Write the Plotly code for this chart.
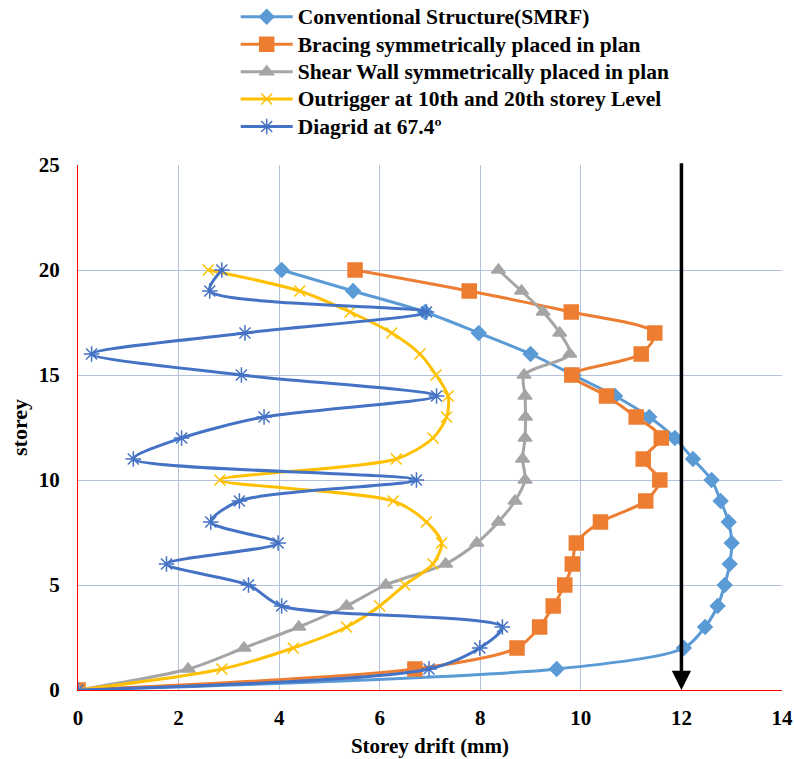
import plotly.graph_objects as go

storey = list(range(0, 21))

smrf = [0, 9.52, 12.05, 12.47, 12.72, 12.86, 12.96, 13.0, 12.94, 12.78, 12.6,
        12.23, 11.87, 11.36, 10.68, 9.85, 9.0, 7.97, 6.9, 5.47, 4.05]
bracing = [0, 6.7, 8.73, 9.18, 9.45, 9.68, 9.83, 9.91, 10.39, 11.29, 11.57,
           11.24, 11.6, 11.1, 10.51, 9.82, 11.2, 11.47, 9.81, 7.78, 5.51]
shear = [0, 2.19, 3.3, 4.39, 5.34, 6.12, 7.31, 7.93, 8.36, 8.69, 8.89,
         8.84, 8.89, 8.9, 8.89, 8.87, 9.78, 9.58, 9.25, 8.82, 8.36]
outrigger = [0, 2.86, 4.28, 5.34, 6.0, 6.5, 7.06, 7.23, 6.93, 6.27, 2.82,
             6.33, 7.06, 7.33, 7.36, 7.12, 6.8, 6.24, 5.41, 4.41, 2.59]
diagrid = [0, 6.98, 7.99, 8.44, 4.05, 3.39, 1.76, 3.98, 2.64, 3.21, 6.73,
           1.1, 2.06, 3.7, 7.13, 3.25, 0.27, 3.32, 6.93, 2.62, 2.86]

names = ["Conventional Structure(SMRF)",
         "Bracing symmetrically placed in plan",
         "Shear Wall symmetrically placed in plan",
         "Outrigger at 10th and 20th storey Level",
         "Diagrid at 67.4º"]

x_ticks = [0, 2, 4, 6, 8, 10, 12, 14]
y_ticks = [0, 5, 10, 15, 20, 25]
limit_drift = 12

series = [smrf, bracing, shear, outrigger, diagrid]
colors = ["#5B9BD5", "#ED7D31", "#A5A5A5", "#FFC000", "#4472C4"]
symbols = ["diamond", "square", "triangle-up", "x-thin-open", "asterisk-open"]
sizes = [11, 14, 12, 11, 13]

fig = go.Figure()
for vals, nm, c, s, sz in zip(series, names, colors, symbols, sizes):
    fig.add_trace(go.Scatter(
        x=vals, y=storey, name='<span style="font-size:21.5px">' + nm + '</span>',
        mode="lines+markers",
        line=dict(color=c, width=3, shape="spline", smoothing=0.8),
        marker=dict(symbol=s, size=sz, color=c, line=dict(color=c, width=1.5)),
    ))

fig.add_annotation(
    x=limit_drift, y=0, ax=limit_drift, ay=25.15, xref="x", yref="y",
    axref="x", ayref="y", showarrow=True, arrowhead=2, arrowsize=1.1,
    arrowwidth=3.5, arrowcolor="black", text="",
)

font_family = "Liberation Serif"
fig.update_layout(
    width=794, height=759,
    margin=dict(l=78, r=12, t=165, b=69, autoexpand=False),
    plot_bgcolor="white", paper_bgcolor="white",
    font=dict(family=font_family, size=21, color="black"),
    showlegend=True,
    legend=dict(
        x=0.224, y=1.318, xanchor="left", yanchor="top",
        font=dict(family=font_family, size=18.8, color="black", weight="bold"),
        tracegroupgap=0, itemwidth=52, bgcolor="rgba(0,0,0,0)",
    ),
    xaxis=dict(
        range=[0, 14], tickvals=x_ticks, showgrid=True, gridcolor="#B4C2D9",
        gridwidth=1, zeroline=False, showline=True, linecolor="red", linewidth=1,
        tickfont=dict(family=font_family, size=21, weight="bold"),
        title=dict(text="<b>Storey drift (mm)</b>", font=dict(family=font_family, size=21), standoff=9),
        ticks="", ticklabelstandoff=9, fixedrange=True, automargin=False,
    ),
    yaxis=dict(
        range=[0, 25], tickvals=y_ticks, showgrid=True, gridcolor="#B4C2D9",
        gridwidth=1, zeroline=False, showline=True, linecolor="red", linewidth=1,
        tickfont=dict(family=font_family, size=21, weight="bold"),
        title=dict(text="<b>storey</b>", font=dict(family=font_family, size=22), standoff=5),
        ticks="", ticklabelstandoff=13, fixedrange=True, automargin=False,
    ),
)

fig.write_html(
    "out.html",
    config={"displayModeBar": False},
    post_script="document.body.style.margin='0px';document.body.style.overflow='hidden';",
)
